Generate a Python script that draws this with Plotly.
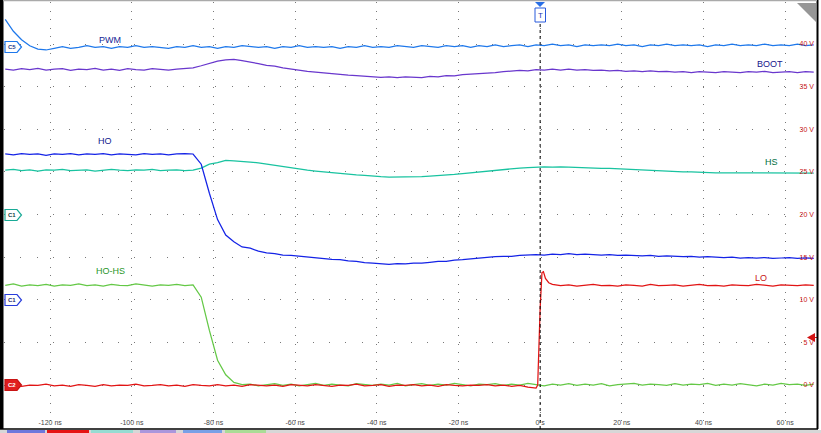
import plotly.graph_objects as go

# ---------------- data ----------------
t_grid = [-131 + 2 * i for i in range(100)]          # ns, sample times

pwm_v = [42.9, 41.5, 40.5, 39.8, 39.4, 39.3, 39.5, 39.7, 39.5, 39.6,
         39.8, 39.6, 39.7, 39.5, 39.7, 39.6, 39.8, 39.6, 39.7, 39.6,
         39.5, 39.7, 39.6, 39.8, 39.6, 39.7, 39.5, 39.7, 39.6, 39.8,
         39.7, 39.6, 39.7, 39.5, 39.7, 39.6, 39.8, 39.6, 39.7, 39.6,
         39.7, 39.5, 39.7, 39.6, 39.8, 39.6, 39.7, 39.6, 39.8, 39.7,
         39.6, 39.8, 39.7, 39.6, 39.8, 39.7, 39.8, 39.6, 39.8, 39.7,
         39.9, 39.7, 39.8, 39.9, 39.7, 39.9, 39.8, 40.0, 39.8, 39.9,
         39.7, 39.9, 39.8, 39.9, 39.8, 40.0, 39.8, 39.9, 39.7, 39.9,
         39.8, 40.0, 39.8, 39.9, 39.8, 39.9, 39.7, 39.9, 39.8, 40.0,
         39.8, 39.9, 39.8, 40.0, 39.8, 39.9, 39.8, 40.0, 39.8, 39.9]

boot_v = [37.05, 36.95, 37.1, 37.0, 37.15, 36.95, 37.05, 37.1, 36.9, 37.05,
          37.0, 37.15, 36.95, 37.05, 36.9, 37.1, 37.0, 36.95, 37.1, 37.0,
          36.95, 37.05, 37.1, 37.2, 37.45, 37.75, 38.0, 38.15, 38.2, 38.05,
          37.9, 37.7, 37.5, 37.4, 37.2, 37.05, 36.95, 36.8, 36.7, 36.6,
          36.5, 36.45, 36.35, 36.3, 36.25, 36.2, 36.1, 36.15, 36.05, 36.15,
          36.1, 36.05, 36.2, 36.15, 36.3, 36.25, 36.4, 36.45, 36.5, 36.6,
          36.65, 36.75, 36.8, 36.9, 36.85, 37.0, 36.95, 37.05, 36.95, 37.05,
          36.95, 37.0, 36.9, 36.95, 36.85, 36.9, 36.8, 36.85, 36.75, 36.85,
          36.75, 36.8, 36.7, 36.75, 36.65, 36.75, 36.7, 36.65, 36.75, 36.7,
          36.65, 36.75, 36.7, 36.8, 36.65, 36.7, 36.75, 36.65, 36.75, 36.7]

ho_v = [27.1, 27.0, 27.15, 27.05, 27.1, 26.95, 27.1, 27.05, 27.15, 27.0,
        27.1, 27.05, 27.15, 27.0, 27.1, 27.05, 27.0, 27.15, 27.05, 27.1,
        27.0, 27.1, 27.15, 27.1, 25.9, 22.5, 19.4, 17.6, 16.8, 16.2,
        16.05, 15.7, 15.5, 15.4, 15.25, 15.2, 15.1, 15.0, 14.95, 14.85,
        14.75, 14.7, 14.55, 14.5, 14.35, 14.3, 14.25, 14.15, 14.25, 14.2,
        14.3, 14.3, 14.4, 14.5, 14.5, 14.65, 14.7, 14.8, 14.85, 14.95,
        15.05, 15.1, 15.1, 15.2, 15.25, 15.3, 15.25, 15.35, 15.3, 15.4,
        15.3, 15.35, 15.3, 15.25, 15.3, 15.2, 15.25, 15.2, 15.15, 15.2,
        15.1, 15.15, 15.1, 15.05, 15.1, 15.0, 15.05, 15.0, 14.95, 15.0,
        14.9, 14.95, 14.9, 14.95, 14.85, 14.9, 14.95, 14.85, 14.9, 14.85]

hs_v = [25.2, 25.3, 25.15, 25.25, 25.1, 25.25, 25.2, 25.3, 25.15, 25.2,
        25.25, 25.1, 25.2, 25.3, 25.2, 25.15, 25.25, 25.2, 25.3, 25.15,
        25.2, 25.25, 25.15, 25.2, 25.45, 25.9, 26.1, 26.35, 26.3, 26.25,
        26.15, 26.05, 25.9, 25.75, 25.6, 25.45, 25.35, 25.2, 25.1, 25.0,
        24.9, 24.8, 24.7, 24.65, 24.6, 24.5, 24.45, 24.4, 24.4, 24.45,
        24.4, 24.45, 24.5, 24.55, 24.6, 24.7, 24.8, 24.9, 25.0, 25.1,
        25.2, 25.3, 25.4, 25.45, 25.5, 25.55, 25.6, 25.55, 25.6, 25.55,
        25.5, 25.5, 25.45, 25.4, 25.4, 25.35, 25.3, 25.25, 25.2, 25.2,
        25.15, 25.1, 25.05, 25.0, 25.0, 24.95, 24.95, 24.9, 24.9, 24.9,
        24.85, 24.85, 24.9, 24.85, 24.9, 24.85, 24.9, 24.85, 24.9, 24.85]

hohs_v = [11.7, 11.85, 11.6, 11.75, 11.65, 11.8, 11.6, 11.75, 11.7, 11.85,
          11.65, 11.75, 11.6, 11.8, 11.7, 11.65, 11.85, 11.7, 11.6, 11.75,
          11.7, 11.8, 11.65, 11.75, 10.3, 6.4, 2.9, 1.2, 0.3, 0.05,
          0.1, -0.1, 0.05, 0.15, -0.05, 0.1, -0.1, 0.05, 0.2, -0.05,
          0.1, 0.0, -0.1, 0.15, 0.05, -0.05, 0.1, 0.0, 0.2, -0.1,
          0.05, 0.15, -0.05, 0.1, 0.0, 0.2, 0.05, -0.1, 0.1, 0.05,
          0.15, -0.05, 0.1, 0.0, 0.2, 0.05, -0.1, 0.1, 0.0, 0.15,
          -0.05, 0.1, 0.0, 0.15, -0.1, 0.05, 0.1, 0.2, 0.0, 0.1,
          0.05, -0.05, 0.15, 0.0, 0.1, 0.05, 0.2, -0.05, 0.1, 0.0,
          0.15, 0.05, -0.1, 0.1, 0.0, 0.2, 0.05, 0.1, -0.05, 0.1]

lo_before_v = [-0.1, 0.05, -0.15, 0.0, -0.05, 0.1, -0.1, 0.0, -0.15, 0.05,
               -0.05, -0.15, 0.05, -0.1, 0.0, -0.05, 0.1, -0.1, -0.05, 0.05,
               -0.1, 0.0, -0.15, 0.05, -0.05, -0.1, 0.05, -0.1, 0.0, -0.15,
               0.05, -0.05, -0.1, 0.0, -0.15, 0.05, -0.05, -0.1, 0.05, -0.05,
               -0.15, 0.0, -0.05, 0.1, -0.1, -0.05, 0.05, -0.15, 0.0, -0.05,
               0.05, -0.1, 0.0, -0.15, 0.05, -0.05, -0.1, 0.0, -0.05, 0.05,
               -0.1, 0.0, -0.15, -0.05, -0.25, -0.35]
lo_edge_t = [-0.6, 0.0, 0.45, 0.8, 1.3, 2.1]
lo_edge_v = [0.0, 9.0, 13.2, 13.3, 12.5, 12.0]
lo_after_v = [11.8, 11.65, 11.75, 11.6, 11.7, 11.8, 11.65, 11.7, 11.6, 11.75,
              11.7, 11.6, 11.8, 11.65, 11.7, 11.75, 11.6, 11.7, 11.8, 11.65,
              11.7, 11.6, 11.75, 11.7, 11.65, 11.8, 11.7, 11.6, 11.75, 11.7,
              11.65, 11.75, 11.7]

x_tick_vals = [-120, -100, -80, -60, -40, -20, 0, 20, 40, 60]
x_tick_text = ["-120 ns", "-100 ns", "-80 ns", "-60 ns", "-40 ns", "-20 ns",
               "0 s", "20 ns", "40 ns", "60 ns"]
y_tick_vals = [0, 5, 10, 15, 20, 25, 30, 35, 40]
y_tick_text = ["0 V", "5 V", "10 V", "15 V", "20 V", "25 V", "30 V", "35 V", "40 V"]

lo_t = t_grid[:66] + lo_edge_t + t_grid[67:]
lo_v = lo_before_v + lo_edge_v + lo_after_v

# ---------------- layout geometry ----------------
W, H = 821, 433
ML, MR, MT, MB = 4, 4, 2, 4
PW = W - ML - MR
PH = H - MT - MB


def px(x):
    return (x - ML) / PW


def py(y):
    return (H - MB - y) / PH


FONT = "Liberation Sans, Arial, sans-serif"

traces = [
    ("HO-HS", t_grid, hohs_v, "rgb(100,200,70)"),
    ("LO", lo_t, lo_v, "rgb(225,20,20)"),
    ("HS", t_grid, hs_v, "rgb(25,195,160)"),
    ("HO", t_grid, ho_v, "rgb(20,35,230)"),
    ("BOOT", t_grid, boot_v, "rgb(105,55,205)"),
    ("PWM", t_grid, pwm_v, "rgb(30,120,235)"),
]

fig = go.Figure()
for name, tx, vy, col in traces:
    fig.add_trace(go.Scatter(x=tx, y=vy, mode="lines", name=name,
                             line=dict(color=col, width=1.25),
                             hoverinfo="skip"))

# trace name labels
labels = [
    ("PWM", -105.3, 40.5, "rgb(20,30,150)"),
    ("BOOT", 56.3, 37.65, "rgb(20,20,140)"),
    ("HO", -106.5, 28.6, "rgb(15,25,140)"),
    ("HS", 56.6, 26.15, "rgb(0,110,60)"),
    ("HO-HS", -105.1, 13.4, "rgb(40,150,40)"),
    ("LO", 54.1, 12.55, "rgb(200,20,20)"),
]
annotations = []
for txt, ax_, ay_, c in labels:
    annotations.append(dict(x=ax_, y=ay_, xref="x", yref="y", text=txt,
                            xanchor="center", yanchor="middle",
                            showarrow=False, font=dict(family=FONT, size=9, color=c)))

shapes = []

# channel tags on the left (pentagon markers)
tags = [("C5", 47, "rgb(30,120,235)", "white", "rgb(30,60,140)"),
        ("C1", 215, "rgb(25,170,150)", "white", "rgb(20,70,70)"),
        ("C1", 300, "rgb(40,60,220)", "white", "rgb(30,40,120)"),
        ("C2", 385, "rgb(200,20,20)", "rgb(225,30,30)", "white")]
for txt, ypx, bc, bg, fc in tags:
    path = "M {} {} L {} {} L {} {} L {} {} L {} {} Z".format(
        px(5), py(ypx - 5.5), px(17), py(ypx - 5.5), px(21.5), py(ypx),
        px(17), py(ypx + 5.5), px(5), py(ypx + 5.5))
    shapes.append(dict(type="path", xref="paper", yref="paper", path=path,
                       fillcolor=bg, line=dict(color=bc, width=1.2)))
    annotations.append(dict(x=px(11.5), y=py(ypx), xref="paper", yref="paper",
                            xanchor="center", yanchor="middle",
                            text="<b>" + txt + "</b>", showarrow=False,
                            font=dict(family=FONT, size=6, color=fc)))

# trigger marker (top)
shapes.append(dict(type="path", xref="paper", yref="paper",
                   path="M {} {} L {} {} L {} {} Z".format(px(535), py(2), px(545), py(2), px(540), py(7)),
                   fillcolor="rgb(40,110,230)", line=dict(width=0)))
shapes.append(dict(type="rect", xref="paper", yref="paper",
                   x0=px(535), x1=px(545.5), y0=py(22), y1=py(8),
                   fillcolor="white", line=dict(color="rgb(40,90,220)", width=1)))
annotations.append(dict(x=px(540.3), y=py(15), xref="paper", yref="paper", text="T",
                        xanchor="center", yanchor="middle",
                        showarrow=False, font=dict(family=FONT, size=8, color="rgb(30,60,180)")))
# trigger level arrow (right)
shapes.append(dict(type="path", xref="paper", yref="paper",
                   path="M {} {} L {} {} L {} {} Z".format(px(815), py(333), px(807), py(337.5), px(815), py(342)),
                   fillcolor="rgb(210,20,20)", line=dict(width=0)))
shapes.append(dict(type="line", xref="paper", yref="paper", x0=px(810), x1=px(817), y0=py(337.5), y1=py(337.5),
                   line=dict(color="rgb(210,20,20)", width=1)))

shapes += [
    # trigger time line
    dict(type="line", xref="x", yref="paper", x0=0, x1=0, y0=0, y1=py(22),
         line=dict(color="black", width=1, dash="3px,3px")),
    # frame
    dict(type="rect", xref="paper", yref="paper", x0=px(0), x1=px(3.5), y0=py(429), y1=py(0),
         fillcolor="black", line=dict(width=0)),
    dict(type="rect", xref="paper", yref="paper", x0=px(816.5), x1=px(818.5), y0=py(429), y1=py(0),
         fillcolor="black", line=dict(width=0)),
    dict(type="line", xref="paper", yref="paper", x0=px(0), x1=px(818), y0=py(429), y1=py(429),
         line=dict(color="black", width=1.5)),
    dict(type="line", xref="paper", yref="paper", x0=px(3), x1=px(817), y0=py(0.5), y1=py(0.5),
         line=dict(color="rgb(170,170,170)", width=1.5)),
    # top-right corner icon
    dict(type="path", xref="paper", yref="paper",
         path="M {} {} L {} {} L {} {} Z".format(px(797), py(3), px(816), py(3), px(816), py(22)),
         fillcolor="rgb(150,150,150)", line=dict(width=0)),
    # bottom toolbar strip
    dict(type="rect", xref="paper", yref="paper", x0=px(0), x1=px(821), y0=py(433), y1=py(430),
         fillcolor="rgb(215,215,215)", line=dict(width=0)),
]
strip = [(7, 45, "rgb(110,120,220)"), (47, 89, "rgb(230,20,20)"), (91, 133, "rgb(150,220,210)"),
         (140, 176, "rgb(170,150,220)"), (183, 222, "rgb(120,160,230)"), (225, 266, "rgb(170,220,150)")]
for x0, x1, c in strip:
    shapes.append(dict(type="rect", xref="paper", yref="paper", x0=px(x0), x1=px(x1),
                       y0=py(433), y1=py(430), fillcolor=c, line=dict(width=0)))

fig.update_layout(
    width=W, height=H,
    margin=dict(l=ML, r=MR, t=MT, b=MB, pad=0),
    paper_bgcolor="white", plot_bgcolor="white",
    showlegend=False,
    font=dict(family=FONT),
    annotations=annotations,
    shapes=shapes,
    xaxis=dict(range=[-131.3, 67.8], tickvals=x_tick_vals, ticktext=x_tick_text,
               ticklabelposition="inside", tickfont=dict(size=7, color="rgb(70,70,70)"),
               showgrid=True, gridcolor="rgb(120,120,120)", gridwidth=1, griddash="1px,7.54px",
               zeroline=False, showline=False, ticks="", fixedrange=True),
    yaxis=dict(range=[-5.16, 44.93], side="right", tickvals=y_tick_vals, ticktext=y_tick_text,
               ticklabelposition="inside", tickfont=dict(size=7, color="rgb(200,20,20)"),
               showgrid=True, gridcolor="rgb(120,120,120)", gridwidth=1, griddash="1px,15.26px",
               zeroline=False, showline=False, ticks="", fixedrange=True),
)

fig.write_html("out.html", config={"displayModeBar": False, "staticPlot": True},
               post_script="document.body.style.margin='0px';document.body.style.overflow='hidden';")
